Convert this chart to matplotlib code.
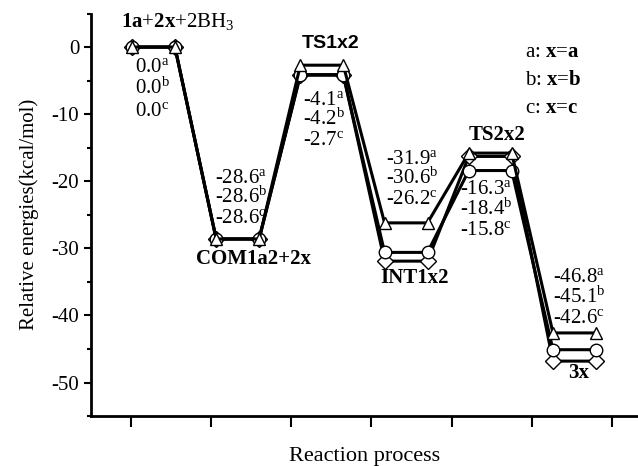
import numpy as np
import matplotlib.pyplot as plt
from matplotlib.ticker import MultipleLocator

plt.rcParams['font.family'] = 'Liberation Serif'
plt.rcParams['mathtext.fontset'] = 'custom'
plt.rcParams['mathtext.rm'] = 'Liberation Serif'
plt.rcParams['mathtext.bf'] = 'Liberation Serif:bold'
plt.rcParams['mathtext.it'] = 'Liberation Serif:italic'
plt.rcParams['axes.unicode_minus'] = False

# energies (kcal/mol) for each stationary point
states = [r'$\mathbf{1a}$+$\mathbf{2x}$+2BH$_3$', 'COM1a2+2x', 'TS1x2', 'INT1x2', 'TS2x2', '3x']
energy_a = [0.0, -28.6, -4.1, -31.9, -16.3, -46.8]
energy_b = [0.0, -28.6, -4.2, -30.6, -18.4, -45.1]
energy_c = [0.0, -28.6, -2.7, -26.2, -15.8, -42.6]
tags = ['a', 'b', 'c']
legend_x = ['a', 'b', 'c']

fs = 15
fig = plt.figure(figsize=(6.38, 4.66), dpi=100)
ax = fig.add_axes([0.1426, 0.107, 0.8574, 0.864])

markers = ['D', 'o', '^']
msizes = [8, 9, 9]
width = 0.51
for E, m, ms in zip([energy_a, energy_b, energy_c], markers, msizes):
    xs, ys = [], []
    for k, e in enumerate(E):
        xs += [k + 1, k + 1 + width]
        ys += [e, e]
    ax.plot(xs, ys, '-', color='black', lw=2.2, marker=m, ms=ms,
            mfc='white', mec='black', mew=1.0)

# energy value labels
val_x = [1.04, 1.99, 3.03, 4.02, 4.90, 6.0]
val_y = [-3.65, -20.25, -8.65, -17.45, -21.95, -35.05]
val_dy = [3.3, 3.0, 3.0, 3.0, 3.0, 3.0]
for k in range(len(states)):
    for j, E in enumerate([energy_a, energy_b, energy_c]):
        s = f'{E[k]:.1f}' + r'$^{\mathrm{' + tags[j] + '}}$'
        ax.text(val_x[k], val_y[k] - j * val_dy[k], s, fontsize=fs,
                ha='left', va='baseline')

# state names
name_x = [1.55, 2.44, 3.36, 4.36, 5.33, 6.30]
name_y = [2.98, -32.3, -0.15, -35.1, -13.8, -49.3]
for k, name in enumerate(states):
    if name == 'TS1x2':
        ax.text(name_x[k], name_y[k], name, fontsize=fs - 1, fontweight='bold',
                family='Liberation Sans', ha='center', va='baseline')
    elif k == 0:
        ax.text(name_x[k], name_y[k], name, fontsize=fs, ha='center', va='baseline')
    else:
        ax.text(name_x[k], name_y[k], name, fontsize=fs, fontweight='bold',
                ha='center', va='baseline')

# legend text
for j, t in enumerate(tags):
    ax.text(5.67, -1.5 - j * 4.15, t + r': $\mathbf{x}$=$\mathbf{' + legend_x[j] + '}$',
            fontsize=fs, ha='left', va='baseline')

ax.set_xlim(0.513, 7.01)
ax.set_ylim(-55, 5)
ax.set_xticks(0.988 + 0.952 * np.arange(7))
ax.set_xticklabels([])
ax.set_yticks([0, -10, -20, -30, -40, -50])
ax.yaxis.set_minor_locator(MultipleLocator(5))
ax.tick_params(axis='y', which='major', length=5, width=1.5, labelsize=fs)
ax.tick_params(axis='y', which='minor', length=3, width=1.5)
ax.tick_params(axis='x', which='major', length=8, width=1.5)
for s in ['top', 'right']:
    ax.spines[s].set_visible(False)
for s in ['left', 'bottom']:
    ax.spines[s].set_linewidth(2.0)

ax.set_ylabel('Relative energies(kcal/mol)', fontsize=fs, labelpad=9)
ax.set_xlabel('Reaction process', fontsize=fs + 1, labelpad=11)

fig.savefig('out.png', dpi=100)
